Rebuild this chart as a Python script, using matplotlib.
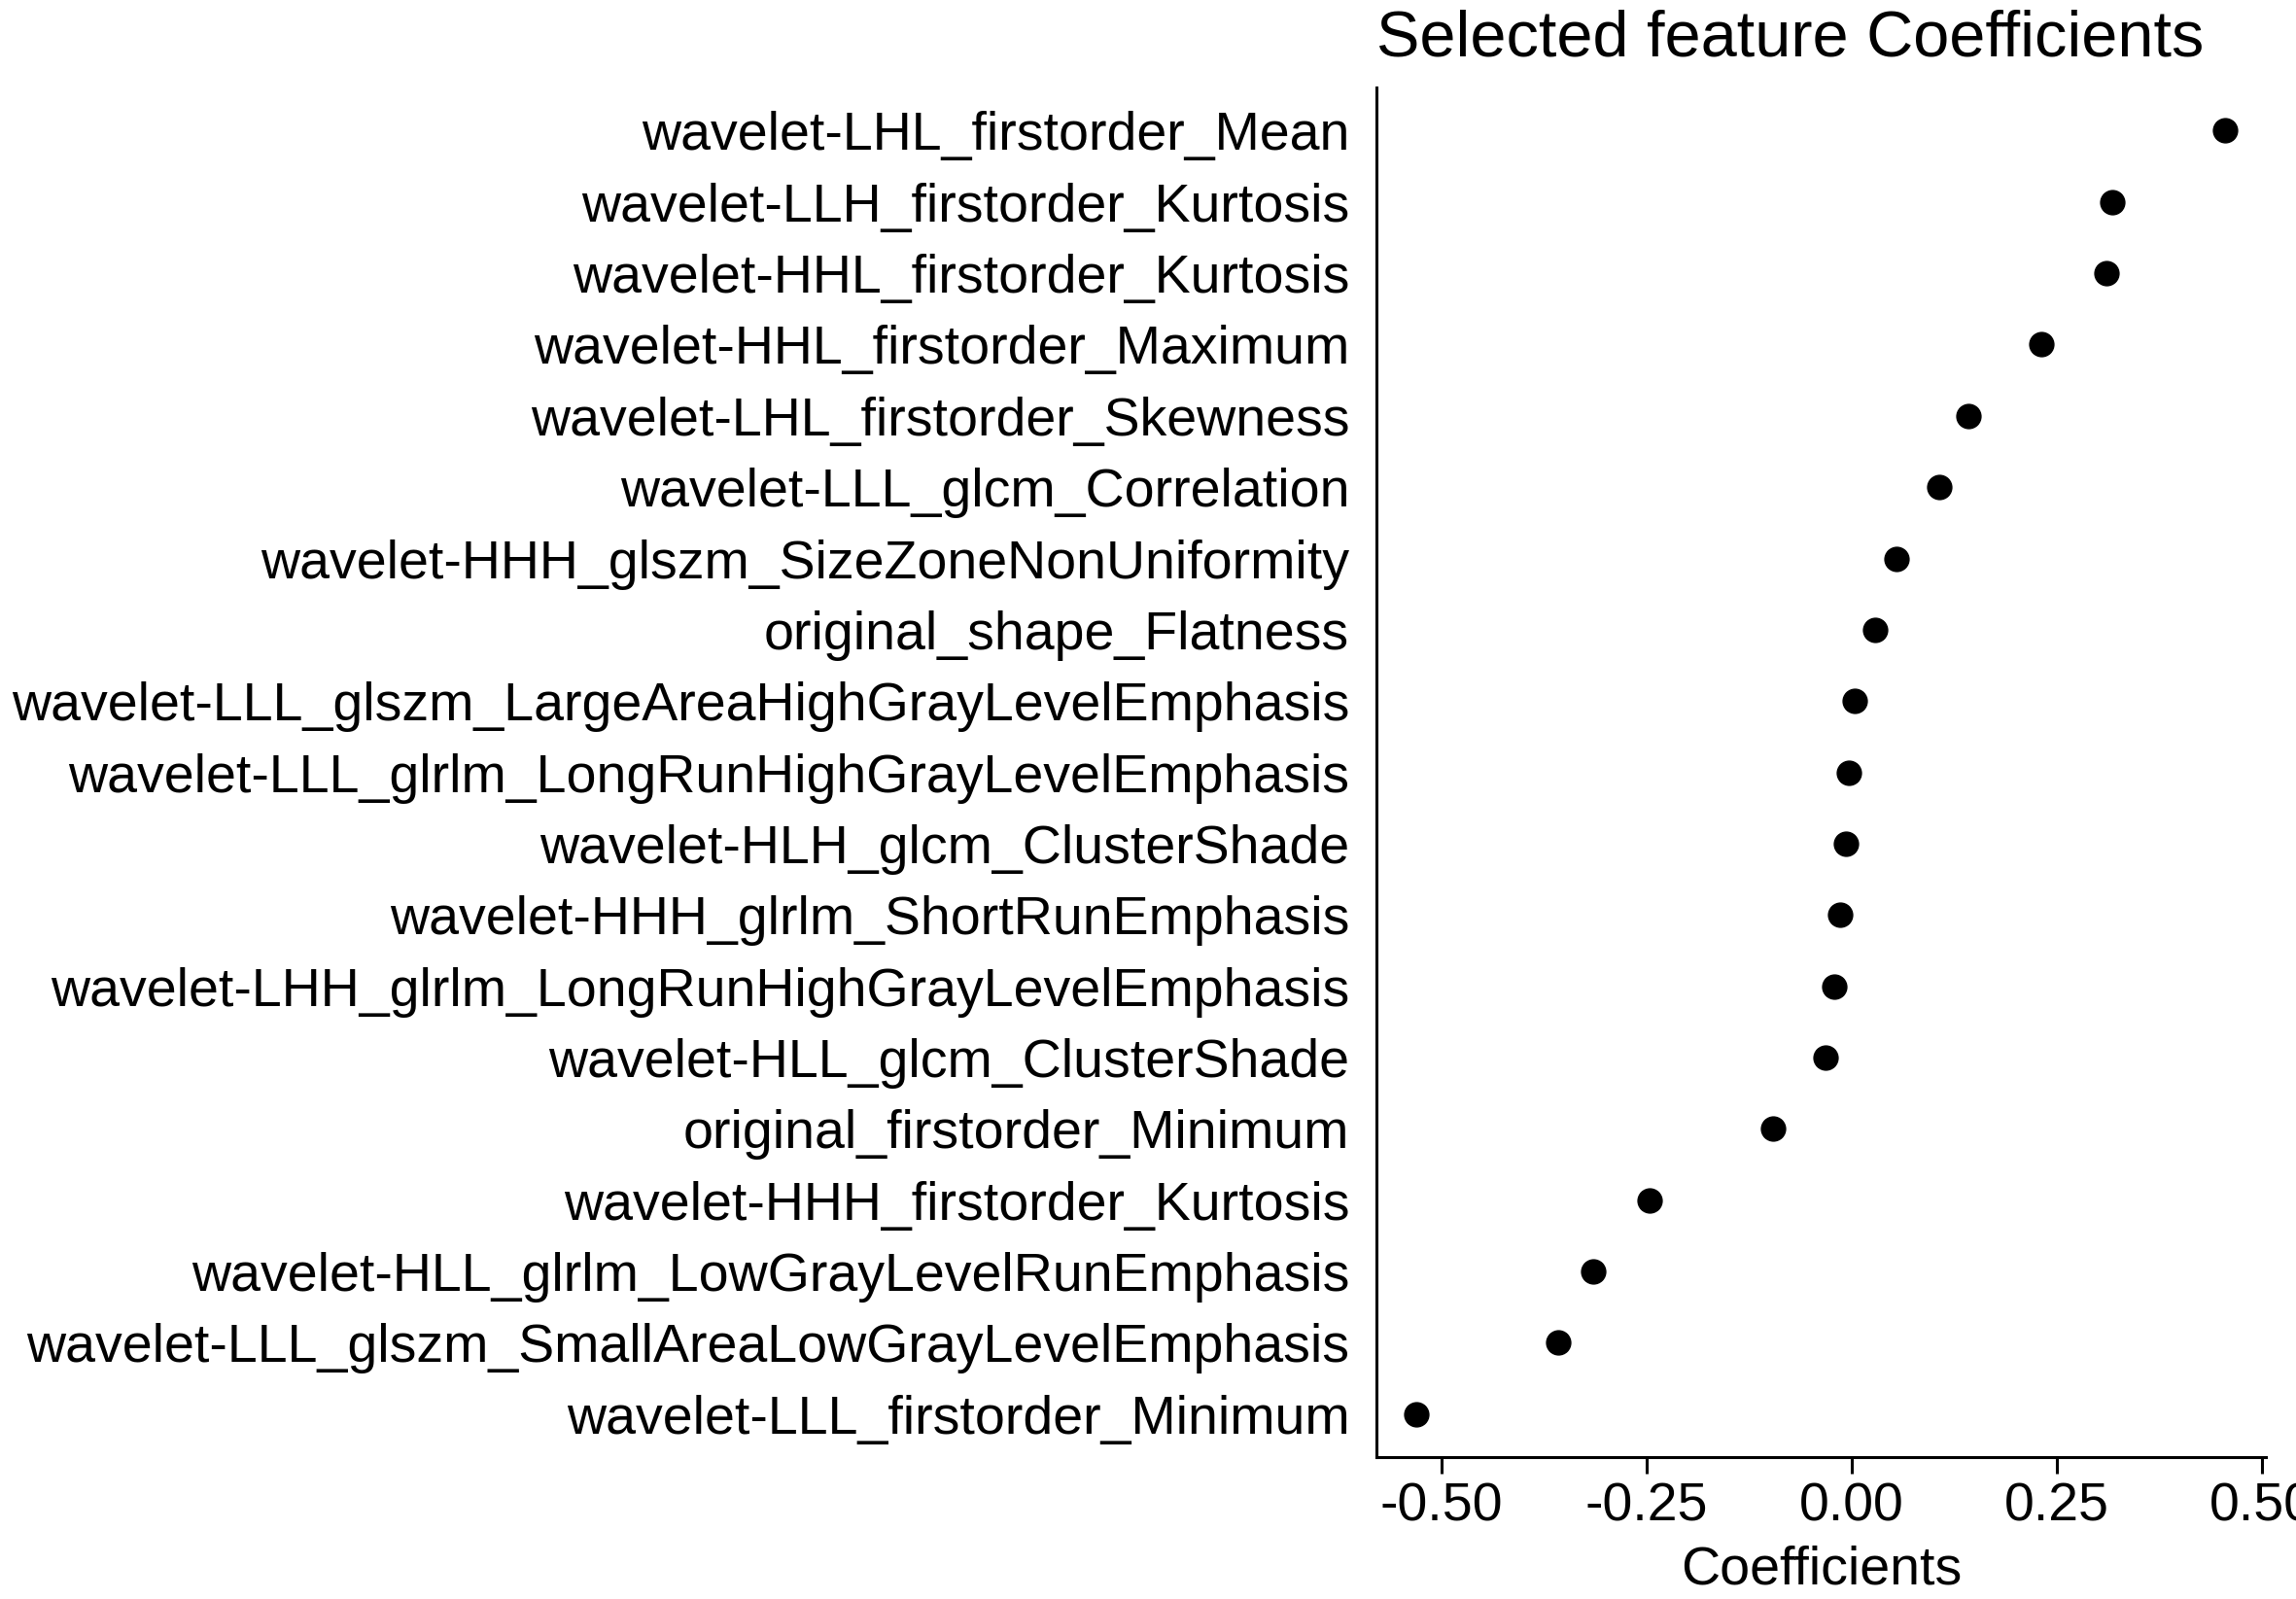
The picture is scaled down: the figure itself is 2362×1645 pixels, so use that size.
import matplotlib
matplotlib.use("Agg")
import matplotlib.pyplot as plt

plt.rcParams['font.family'] = ['Liberation Sans', 'DejaVu Sans']

# features from top to bottom
features = [
    "wavelet-LHL_firstorder_Mean",
    "wavelet-LLH_firstorder_Kurtosis",
    "wavelet-HHL_firstorder_Kurtosis",
    "wavelet-HHL_firstorder_Maximum",
    "wavelet-LHL_firstorder_Skewness",
    "wavelet-LLL_glcm_Correlation",
    "wavelet-HHH_glszm_SizeZoneNonUniformity",
    "original_shape_Flatness",
    "wavelet-LLL_glszm_LargeAreaHighGrayLevelEmphasis",
    "wavelet-LLL_glrlm_LongRunHighGrayLevelEmphasis",
    "wavelet-HLH_glcm_ClusterShade",
    "wavelet-HHH_glrlm_ShortRunEmphasis",
    "wavelet-LHH_glrlm_LongRunHighGrayLevelEmphasis",
    "wavelet-HLL_glcm_ClusterShade",
    "original_firstorder_Minimum",
    "wavelet-HHH_firstorder_Kurtosis",
    "wavelet-HLL_glrlm_LowGrayLevelRunEmphasis",
    "wavelet-LLL_glszm_SmallAreaLowGrayLevelEmphasis",
    "wavelet-LLL_firstorder_Minimum",
]
coefs = [0.455, 0.318, 0.311, 0.231, 0.142, 0.107, 0.055, 0.028, 0.004,
         -0.004, -0.007, -0.014, -0.021, -0.032, -0.096, -0.246, -0.315,
         -0.358, -0.530]
xticks = [-0.50, -0.25, 0.00, 0.25, 0.50]
xtick_labels = ["-0.50", "-0.25", "0.00", "0.25", "0.50"]

fig = plt.figure(figsize=(23.62, 16.45), dpi=100)
ax = fig.add_axes([0.5995, 0.089, 0.3875, 0.856])

n = len(features)
ypos = list(range(n, 0, -1))
ax.scatter(coefs, ypos, s=320, color='black', zorder=3)

ax.set_yticks(ypos)
ax.set_yticklabels(features, fontsize=40)
ax.set_xticks(xticks)
ax.set_xticklabels(xtick_labels, fontsize=40)
ax.set_xlim(-0.579, 0.505)
ax.set_ylim(0.4, n + 0.6)

for s in ['top', 'right']:
    ax.spines[s].set_visible(False)
for s in ['left', 'bottom']:
    ax.spines[s].set_linewidth(2.2)
ax.tick_params(axis='y', length=0, pad=20)
ax.tick_params(axis='x', length=12, width=2.2, pad=7)

ax.set_xlabel("Coefficients", fontsize=40, labelpad=9)
ax.set_title("Selected feature Coefficients", fontsize=48, loc='left', pad=24)

fig.savefig("out.png", dpi=100, facecolor='white')
